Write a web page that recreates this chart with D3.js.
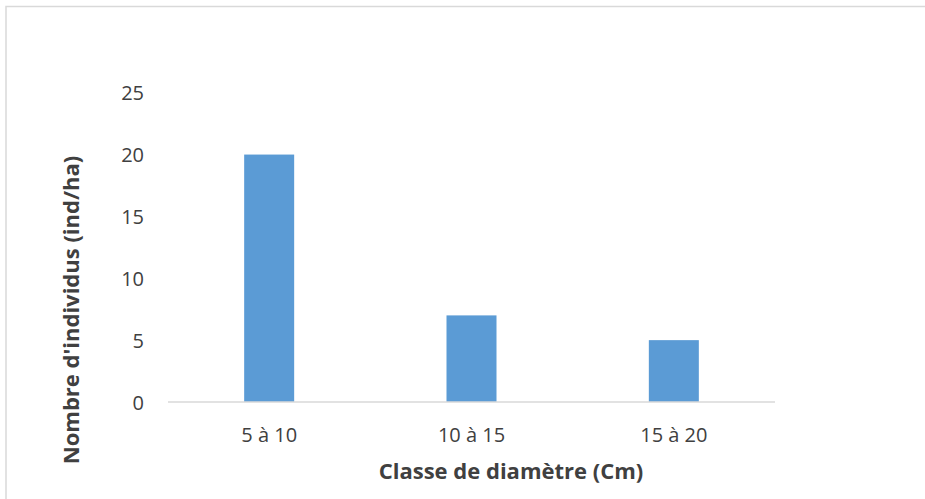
<!DOCTYPE html>
<html>
<head>
<meta charset="utf-8">
<script src="https://cdn.jsdelivr.net/npm/d3@7"></script>
<style>
  body { margin: 0; background: #fff; }
  svg { display: block; font-family: "Open Sans", "Liberation Sans", sans-serif; }
</style>
</head>
<body>
<div id="chart"></div>
<script>
const categories = ["5 à 10", "10 à 15", "15 à 20"];
const values = [20, 7, 5];
const yTicks = [0, 5, 10, 15, 20, 25];

const width = 925, height = 499;
const plotLeft = 168, plotRight = 775, plotTop = 92.7, plotBottom = 402;

const svg = d3.select("#chart").append("svg")
    .attr("width", width)
    .attr("height", height);

// cadre du graphique (déborde à droite et en bas)
svg.append("rect")
    .attr("x", 6).attr("y", 6.5)
    .attr("width", 940).attr("height", 520)
    .attr("fill", "none")
    .attr("stroke", "#d9d9d9")
    .attr("stroke-width", 1.5);

const x = d3.scaleBand()
    .domain(categories)
    .range([plotLeft, plotRight]);

const y = d3.scaleLinear()
    .domain([0, 25])
    .range([plotBottom, plotTop]);

const barW = 50;

svg.selectAll("rect.bar")
    .data(values)
    .enter()
    .append("rect")
    .attr("class", "bar")
    .attr("x", (d, i) => x(categories[i]) + x.bandwidth() / 2 - barW / 2)
    .attr("y", d => y(d))
    .attr("width", barW)
    .attr("height", d => plotBottom - y(d))
    .attr("fill", "#5b9bd5");

// axe x
svg.append("line")
    .attr("x1", plotLeft).attr("x2", plotRight)
    .attr("y1", plotBottom).attr("y2", plotBottom)
    .attr("stroke", "#d9d9d9")
    .attr("stroke-width", 1.5);

svg.selectAll("text.xt")
    .data(categories)
    .enter()
    .append("text")
    .attr("class", "xt")
    .attr("x", d => x(d) + x.bandwidth() / 2)
    .attr("y", 442)
    .attr("text-anchor", "middle")
    .attr("font-size", 20)
    .attr("fill", "#404040")
    .text(d => d);

svg.selectAll("text.yt")
    .data(yTicks)
    .enter()
    .append("text")
    .attr("class", "yt")
    .attr("x", 144)
    .attr("y", d => y(d) + 7.5)
    .attr("text-anchor", "end")
    .attr("font-size", 20)
    .attr("fill", "#404040")
    .text(d => d);

svg.append("text")
    .attr("x", 511)
    .attr("y", 479)
    .attr("text-anchor", "middle")
    .attr("font-size", 22)
    .attr("font-weight", "bold")
    .attr("fill", "#404040")
    .text("Classe de diamètre (Cm)");

svg.append("text")
    .attr("transform", "translate(79,310) rotate(-90)")
    .attr("text-anchor", "middle")
    .attr("font-size", 22)
    .attr("font-weight", "bold")
    .attr("fill", "#404040")
    .text("Nombre d'individus (ind/ha)");
</script>
</body>
</html>
